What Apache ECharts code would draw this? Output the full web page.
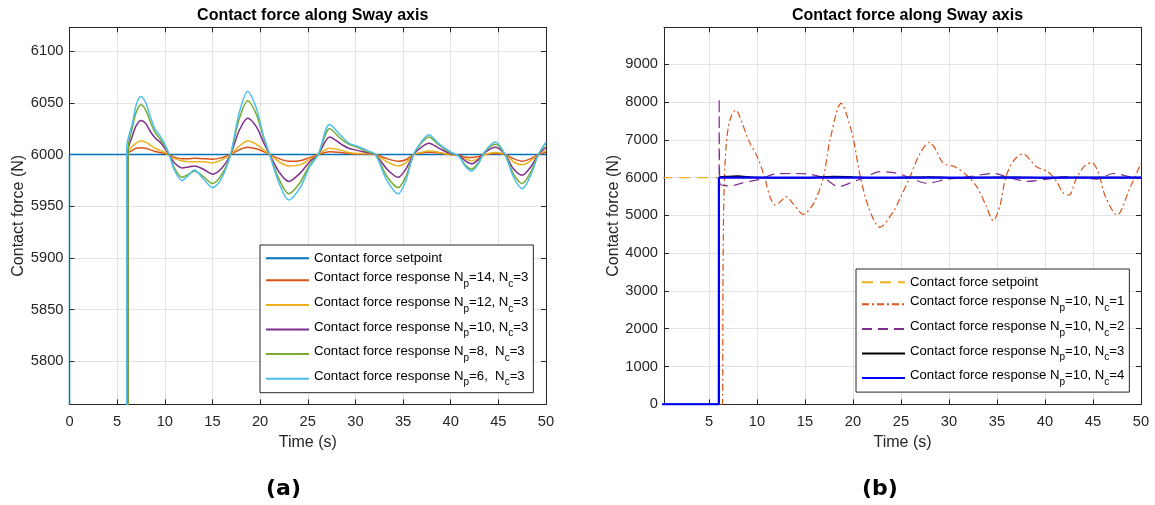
<!DOCTYPE html>
<html>
<head>
<meta charset="utf-8">
<script src="https://cdn.jsdelivr.net/npm/echarts@6/dist/echarts.min.js"></script>
<style>
  html, body { margin: 0; padding: 0; background: #fff; }
  #chart { width: 1155px; height: 505px; }
</style>
</head>
<body>
<div id="chart"></div>
<script>
// ---------- Panel (a): prediction horizon sweep, Nc = 3 ----------
const timeA = [6.15, 6.6, 7.0, 7.5, 8.0, 8.5, 9.0, 9.5, 10.0, 10.5,
  11.0, 11.8, 12.5, 13.1, 14.0, 15.0, 16.0, 16.9, 17.8, 18.7,
  19.6, 20.3, 21.0, 22.0, 23.0, 24.2, 25.2, 26.1, 27.3, 28.5,
  29.3, 30.2, 31.2, 32.1, 33.3, 34.5, 35.3, 36.1, 36.9, 37.7,
  38.8, 39.9, 40.9, 41.5, 42.2, 42.9, 43.6, 44.7, 45.7, 46.6,
  47.5, 48.4, 49.2, 50.0];
const setpointA = [[0, 0], [0, 6000], [50, 6000]];
const jumpA = [6.15, 6.15, 6.15, 6.15, 6.0];
const npA = [14, 12, 10, 8, 6];
const forceNp14 = [6001, 6004, 6006, 6006.5, 6006, 6004.5, 6003, 6002, 6001, 5999.5,
  5997.5, 5996, 5996, 5996.5, 5996, 5995.5, 5997, 6000, 6004.5, 6007,
  6005.5, 6003, 6000, 5996, 5993.5, 5994, 5997, 6000, 6002.7, 6002,
  6001, 6000.5, 6000.5, 6000, 5996, 5993.5, 5995, 6000, 6001.5, 6002.3,
  6001.5, 6000, 5999.5, 5997.5, 5997, 5998, 6000, 6001, 6000, 5996,
  5993.5, 5996, 6000, 6002];
const forceNp12 = [6002, 6008, 6011, 6013, 6012, 6009, 6006, 6004, 6002, 5999,
  5996, 5994, 5993, 5993, 5993, 5992, 5995, 6000, 6008, 6013,
  6010, 6005, 6000, 5993, 5989, 5990, 5995, 6000, 6006, 6004,
  6002, 6001, 6001, 6000, 5993, 5989, 5992, 6000, 6002, 6003.5,
  6002, 6000, 5999, 5996, 5994, 5996, 6000, 6002, 6000, 5993,
  5990, 5994, 6000, 6004];
const forceNp10 = [6004, 6018, 6028, 6033, 6030, 6022, 6016, 6012, 6006, 5999,
  5992, 5987, 5988, 5989, 5986, 5981, 5987, 6000, 6023, 6035,
  6027, 6013, 6000, 5983, 5974, 5982, 5993, 6000, 6017, 6010,
  6006, 6004, 6002, 6000, 5986, 5978, 5986, 6000, 6007, 6011,
  6006, 6001, 5999, 5994, 5991, 5995, 6002, 6007, 6000, 5986,
  5980, 5988, 6000, 6007];
const forceNp8 = [6006, 6026, 6041, 6048, 6043, 6031, 6021, 6015, 6008, 5999,
  5987, 5978, 5981, 5984, 5979, 5972, 5981, 6000, 6034, 6052,
  6039, 6018, 6000, 5976, 5962, 5973, 5990, 6000, 6025, 6015,
  6010, 6007, 6003, 6000, 5979, 5968, 5979, 6000, 6011, 6017,
  6009, 6002, 5998, 5990, 5986, 5992, 6003, 6010, 6000, 5981,
  5972, 5983, 6000, 6011];
const forceNp6 = [6007, 6030, 6048, 6056, 6050, 6036, 6024, 6018, 6010, 5999,
  5985, 5975, 5980, 5985, 5977, 5968, 5978, 6000, 6040, 6061,
  6045, 6020, 6000, 5972, 5956, 5968, 5988, 6000, 6029, 6018,
  6011, 6008, 6004, 6000, 5975, 5962, 5975, 6000, 6012, 6019,
  6010, 6003, 5998, 5989, 5984, 5991, 6003, 6012, 6000, 5978,
  5967, 5980, 6000, 6012];
const yTicksA = [5800, 5850, 5900, 5950, 6000, 6050, 6100];
const xTicksA = [0, 5, 10, 15, 20, 25, 30, 35, 40, 45, 50];

// ---------- Panel (b): control horizon sweep, Np = 10 ----------
const setpointB = [[0, 6000], [50, 6000]];
const ncB = [1, 2, 3, 4];
const timeNc1 = [0, 6.4, 6.45, 6.55, 6.8, 7.2, 7.8, 8.4, 9.1, 10.1,
  10.8, 11.35, 11.9, 12.5, 13.0, 13.8, 14.8, 15.9, 16.9, 17.6,
  18.75, 19.9, 20.7, 21.6, 22.8, 24.2, 24.9, 25.9, 26.9, 27.95,
  28.6, 29.4, 30.6, 31.8, 32.9, 33.9, 34.6, 35.3, 35.9, 36.7,
  37.7, 39.1, 40.3, 41.2, 41.9, 42.5, 43.3, 44.2, 44.9, 45.6,
  46.3, 47.5, 48.9, 50];
const forceNc1 = [0, 0, 3000, 5500, 6900, 7550, 7790, 7480, 7000, 6510,
  6000, 5495, 5275, 5380, 5495, 5300, 5030, 5320, 5990, 6995,
  7966, 7172, 6100, 5230, 4685, 5098, 5452, 6000, 6600, 6935,
  6750, 6380, 6290, 6070, 5760, 5230, 4860, 5250, 6000, 6440,
  6625, 6290, 6157, 5900, 5590, 5540, 6000, 6330, 6396, 6100,
  5490, 5010, 5760, 6380];
const timeNc2 = [0, 6.05, 6.06, 6.12, 7.2, 8.5, 10.3, 11.9, 13.8, 15.3,
  16.9, 18.5, 20.0, 21.2, 22.8, 24.5, 25.9, 27.7, 29.8, 32.2,
  34.6, 36.3, 38.1, 40.2, 42.3, 44.0, 45.4, 47.1, 49.2, 50];
const forceNc2 = [0, 0, 8100, 5850, 5780, 5860, 5960, 6096, 6110, 6096,
  6000, 5760, 5890, 6000, 6157, 6120, 6000, 5850, 5960, 6030,
  6110, 6000, 5900, 5960, 6030, 5990, 5960, 6110, 6000, 5990];
const timeNc3 = [0, 6.05, 6.06, 7, 8, 9.5, 12, 15, 18, 19.5,
  22, 25, 28, 31, 34, 37, 40, 43, 46, 50];
const forceNc3 = [0, 0, 6000, 6030, 6040, 6010, 5990, 5995, 6030, 6025,
  5990, 6000, 6015, 5995, 6005, 6010, 5995, 6005, 6000, 6000];
const timeNc4 = [0, 6.02, 6.03, 10, 20, 30, 40, 50];
const forceNc4 = [0, 0, 6000, 6000, 6000, 6000, 6000, 6000];
const yTicksB = [0, 1000, 2000, 3000, 4000, 5000, 6000, 7000, 8000, 9000];
const xTicksB = [5, 10, 15, 20, 25, 30, 35, 40, 45, 50];

// ---------- styling ----------
const FONT = 'Liberation Sans';
const AXIS_COLOR = '#262626';
const GRID_COLOR = '#e3e3e3';
const colorsA = ['#0072BD', '#D95319', '#EDB120', '#7E2F8E', '#77AC30', '#4DBEEE'];
const colorsB = ['#EDB120', '#D95319', '#7E2F8E', '#000000', '#0000FF'];
const dashesB = [[11, 7], [7, 3, 2, 3], [10, 6], 'solid', 'solid'];
const widthsB = [1.3, 1.2, 1.2, 1.6, 2.2];

const pairs = (xs, ys) => xs.map((x, i) => [x, ys[i]]);
const plain = v => String(v);
const respLabel = (np, nc) =>
  '{n|Contact force response N}{s|p}{n|=' + np + ',' + (np < 10 ? '  ' : ' ') +
  'N}{s|c}{n|=' + nc + '}';

const legendText = {};
const namesA = ['a-set'];
legendText['a-set'] = '{p|Contact force setpoint}';
npA.forEach(np => { const k = 'a-np' + np; namesA.push(k); legendText[k] = respLabel(np, 3); });
const namesB = ['b-set'];
legendText['b-set'] = '{p|Contact force setpoint}';
ncB.forEach(nc => { const k = 'b-nc' + nc; namesB.push(k); legendText[k] = respLabel(10, nc); });

const richLegend = {
  p: { fontFamily: FONT, fontSize: 13.2, color: '#000', lineHeight: 12 },
  n: { fontFamily: FONT, fontSize: 13.2, color: '#000', lineHeight: 16, verticalAlign: 'top' },
  s: { fontFamily: FONT, fontSize: 10, color: '#000', lineHeight: 18, verticalAlign: 'bottom' }
};

function xAxisPair(grid, min, ticks) {
  return [
    {
      type: 'value', gridIndex: grid, position: 'bottom', min: min, max: 50,
      name: 'Time (s)', nameLocation: 'middle', nameGap: 30,
      nameTextStyle: { fontFamily: FONT, fontSize: 16, color: AXIS_COLOR },
      axisLine: { show: true, onZero: false, lineStyle: { color: AXIS_COLOR, width: 1 } },
      axisTick: { show: true, inside: true, length: 5, customValues: ticks, lineStyle: { color: AXIS_COLOR } },
      axisLabel: { customValues: ticks, formatter: plain, margin: 10, fontFamily: FONT, fontSize: 14.7, color: AXIS_COLOR },
      splitLine: { show: true, lineStyle: { color: GRID_COLOR, width: 1 } }
    },
    {
      type: 'value', gridIndex: grid, position: 'top', min: min, max: 50,
      axisLine: { show: true, onZero: false, lineStyle: { color: AXIS_COLOR, width: 1 } },
      axisTick: { show: true, inside: true, length: 5, customValues: ticks, lineStyle: { color: AXIS_COLOR } },
      axisLabel: { show: false },
      splitLine: { show: false }
    }
  ];
}

function yAxisPair(grid, min, max, ticks) {
  return [
    {
      type: 'value', gridIndex: grid, position: 'left', min: min, max: max,
      name: 'Contact force (N)', nameLocation: 'middle', nameGap: 40,
      nameTextStyle: { fontFamily: FONT, fontSize: 16, color: AXIS_COLOR },
      axisLine: { show: true, onZero: false, lineStyle: { color: AXIS_COLOR, width: 1 } },
      axisTick: { show: true, inside: true, length: 5, customValues: ticks, lineStyle: { color: AXIS_COLOR } },
      axisLabel: { customValues: ticks, formatter: plain, margin: 6, fontFamily: FONT, fontSize: 14.7, color: AXIS_COLOR },
      splitLine: { show: true, lineStyle: { color: GRID_COLOR, width: 1 } }
    },
    {
      type: 'value', gridIndex: grid, position: 'right', min: min, max: max,
      axisLine: { show: true, onZero: false, lineStyle: { color: AXIS_COLOR, width: 1 } },
      axisTick: { show: true, inside: true, length: 5, customValues: ticks, lineStyle: { color: AXIS_COLOR } },
      axisLabel: { show: false },
      splitLine: { show: false }
    }
  ];
}

function legendBox(names, left, top) {
  return {
    data: names, orient: 'vertical', left: left, top: top,
    itemWidth: 43, itemHeight: 10, itemGap: 6.6,
    padding: [6.7, 5, 5, 5],
    backgroundColor: '#ffffff', borderColor: AXIS_COLOR, borderWidth: 1, borderRadius: 0,
    selectedMode: false,
    itemStyle: { opacity: 0 },
    formatter: name => legendText[name],
    textStyle: { fontFamily: FONT, fontSize: 13.2, color: '#000', rich: richLegend }
  };
}

const series = [];
series.push({
  name: 'a-set', type: 'line', xAxisIndex: 0, yAxisIndex: 0, data: setpointA,
  symbol: 'none', lineStyle: { color: colorsA[0], width: 1.5 }, itemStyle: { color: colorsA[0] }, z: 2
});
[forceNp14, forceNp12, forceNp10, forceNp8, forceNp6].forEach((vals, i) => {
  const c = colorsA[i + 1];
  series.push({
    name: 'a-np' + npA[i], type: 'line', xAxisIndex: 0, yAxisIndex: 0,
    data: [[0, 0], [jumpA[i], 0], [jumpA[i], vals[0]]].concat(pairs(timeA.slice(1), vals.slice(1))),
    symbol: 'none', smooth: 0.3,
    lineStyle: { color: c, width: 1.5 }, itemStyle: { color: c }, z: 3 + i
  });
});

const dataB = [setpointB, pairs(timeNc1, forceNc1), pairs(timeNc2, forceNc2),
  pairs(timeNc3, forceNc3), pairs(timeNc4, forceNc4)];
const smoothB = [false, 0.3, 0.3, 0.3, false];
dataB.forEach((d, i) => {
  series.push({
    name: namesB[i], type: 'line', xAxisIndex: 2, yAxisIndex: 2, data: d,
    symbol: 'none', smooth: smoothB[i],
    lineStyle: { color: colorsB[i], width: widthsB[i], type: dashesB[i] },
    itemStyle: { color: colorsB[i] }, z: 2 + i
  });
});

const chart = echarts.init(document.getElementById('chart'), null, { renderer: 'canvas' });
chart.setOption({
  animation: false,
  backgroundColor: '#ffffff',
  title: [
    { text: 'Contact force along Sway axis', left: 307.7, top: 3, textAlign: 'center',
      textStyle: { fontFamily: FONT, fontSize: 16, fontWeight: 'bold', color: '#000' } },
    { text: 'Contact force along Sway axis', left: 902.5, top: 3, textAlign: 'center',
      textStyle: { fontFamily: FONT, fontSize: 16, fontWeight: 'bold', color: '#000' } }
  ],
  grid: [
    { left: 69.5, top: 27.3, right: 1155 - 546, bottom: 505 - 404.3 },
    { left: 664, top: 27.3, right: 1155 - 1141, bottom: 505 - 404.3 }
  ],
  xAxis: xAxisPair(0, 0, xTicksA).concat(xAxisPair(1, 0.31, xTicksB)),
  yAxis: yAxisPair(0, 5758.5, 6123, yTicksA).concat(yAxisPair(1, 0, 9980, yTicksB)),
  legend: [legendBox(namesA, 260, 245), legendBox(namesB, 856, 269)],
  graphic: [
    { type: 'text', left: 284 - 18, top: 478,
      style: { text: '(a)', font: 'bold 22px "DejaVu Sans"', fill: '#000' } },
    { type: 'text', left: 880 - 18, top: 478,
      style: { text: '(b)', font: 'bold 22px "DejaVu Sans"', fill: '#000' } }
  ],
  series: series
});
</script>
</body>
</html>
